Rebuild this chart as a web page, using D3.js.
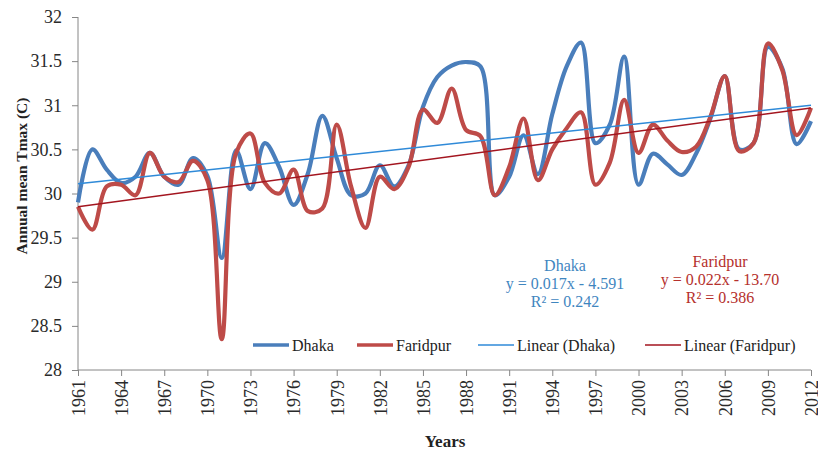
<!DOCTYPE html>
<html>
<head>
<meta charset="utf-8">
<script src="https://cdn.jsdelivr.net/npm/d3@7"></script>
<style>
  html, body { margin: 0; padding: 0; background: #fff; }
  svg { display: block; }
  text { font-family: "Liberation Serif", "Times New Roman", serif; }
</style>
</head>
<body>
<svg id="chart" width="818" height="455"></svg>
<script>
// ---- data ----
const years = [1961,1962,1963,1964,1965,1966,1967,1968,1969,1970,
  1971,1972,1973,1974,1975,1976,1977,1978,1979,1980,
  1981,1982,1983,1984,1985,1986,1987,1988,1989,1990,
  1991,1992,1993,1994,1995,1996,1997,1998,1999,2000,
  2001,2002,2003,2004,2005,2006,2007,2008,2009,2010,
  2011,2012];

const dhaka = [29.90,30.50,30.27,30.12,30.19,30.46,30.19,30.10,30.40,30.20,
  29.27,30.49,30.05,30.57,30.30,29.87,30.23,30.88,30.40,29.98,
  30.00,30.32,30.08,30.32,30.98,31.32,31.45,31.49,31.44,29.98,
  30.19,30.66,30.22,30.90,31.44,31.71,30.57,30.78,31.55,30.10,
  30.45,30.33,30.21,30.45,30.85,31.33,30.50,30.57,31.66,31.42,
  30.56,30.82];

const faridpur = [29.85,29.59,30.08,30.10,29.98,30.46,30.19,30.13,30.37,30.15,
  28.35,30.46,30.68,30.12,30.00,30.27,29.80,29.83,30.78,30.08,
  29.61,30.19,30.05,30.30,30.95,30.80,31.19,30.72,30.65,29.98,
  30.30,30.85,30.15,30.50,30.74,30.92,30.10,30.35,31.06,30.46,
  30.78,30.60,30.47,30.53,30.87,31.33,30.48,30.57,31.70,31.40,
  30.66,30.97];

// linear trend end values (first year, last year) as drawn
const dhakaTrend = [30.11, 31.00];
const faridpurTrend = [29.85, 30.97];

const xTicks = [1961,1964,1967,1970,1973,1976,1979,1982,1985,1988,1991,1994,1997,2000,2003,2006,2009,2012];
const yTicks = [28,28.5,29,29.5,30,30.5,31,31.5,32];

const seriesNames = ["Dhaka","Faridpur","Linear (Dhaka)","Linear (Faridpur)"];
const dhakaEq = ["Dhaka","y = 0.017x - 4.591","R\u00B2 = 0.242"];
const faridpurEq = ["Faridpur","y = 0.022x - 13.70","R\u00B2 = 0.386"];

// ---- drawing ----
const svg = d3.select("#chart");
const x = d3.scaleLinear().domain([1961, 2012]).range([78, 811]);
const y = d3.scaleLinear().domain([28, 32]).range([370, 17]);

const axisColor = "#868686";
const cDhaka = "#4a7ebb", cFarid = "#be4b48";
const cDhakaT = "#2f8ad8", cFaridT = "#a3151f";

// y axis
const gy = svg.append("g").attr("transform", "translate(78,0)")
  .call(d3.axisLeft(y).tickValues(yTicks).tickSize(6).tickPadding(10).tickFormat(d => String(d)));
gy.selectAll("path,line").attr("stroke", axisColor).attr("stroke-width", 1);
gy.select(".domain").attr("d", `M0,${y(32)}V${y(28)}`);
gy.selectAll("text").attr("font-size", 18).attr("fill", "#2a2a2a")
  .style("font-family", "'Liberation Serif', serif");

// x axis
const gx = svg.append("g").attr("transform", "translate(0,370)")
  .call(d3.axisBottom(x).tickValues(xTicks).tickSize(6).tickFormat(d => String(d)));
gx.selectAll("path,line").attr("stroke", axisColor).attr("stroke-width", 1);
gx.select(".domain").attr("d", `M${x(1961)},0H${x(2012)}`);
gx.selectAll("text")
  .attr("font-size", 18).attr("fill", "#2a2a2a")
  .style("font-family", "'Liberation Serif', serif")
  .attr("transform", "rotate(-90)")
  .attr("text-anchor", "end")
  .attr("x", -10).attr("y", 0).attr("dy", "0.35em");

// axis titles
svg.append("text").attr("x", 445).attr("y", 447)
  .attr("text-anchor", "middle").attr("font-weight", "bold").attr("font-size", 17)
  .attr("fill", "#222").text("Years");
svg.append("text").attr("transform", "translate(27,176) rotate(-90)")
  .attr("text-anchor", "middle").attr("font-weight", "bold").attr("font-size", 15.5)
  .attr("fill", "#222").text("Annual mean Tmax (C)");

// series
const line = d3.line().x((d, i) => x(years[i])).y(d => y(d)).curve(d3.curveCatmullRom.alpha(0.5));
svg.append("path").datum(dhaka).attr("d", line)
  .attr("fill", "none").attr("stroke", cDhaka).attr("stroke-width", 4.2).attr("stroke-linejoin", "round");
svg.append("path").datum(faridpur).attr("d", line)
  .attr("fill", "none").attr("stroke", cFarid).attr("stroke-width", 4.2).attr("stroke-linejoin", "round");

// trend lines
const tl = d3.line().x((d, i) => x(i === 0 ? years[0] : years[years.length - 1])).y(d => y(d));
svg.append("path").datum(dhakaTrend).attr("d", tl)
  .attr("fill", "none").attr("stroke", cDhakaT).attr("stroke-width", 1.5);
svg.append("path").datum(faridpurTrend).attr("d", tl)
  .attr("fill", "none").attr("stroke", cFaridT).attr("stroke-width", 1.5);

// legend
const legend = [
  {name: seriesNames[0], color: cDhaka, w: 3.5, x0: 253},
  {name: seriesNames[1], color: cFarid, w: 3.5, x0: 357},
  {name: seriesNames[2], color: cDhakaT, w: 1.5, x0: 478},
  {name: seriesNames[3], color: cFaridT, w: 1.5, x0: 645}
];
const lg = svg.append("g");
legend.forEach(l => {
  lg.append("line").attr("x1", l.x0).attr("x2", l.x0 + 36).attr("y1", 345).attr("y2", 345)
    .attr("stroke", l.color).attr("stroke-width", l.w);
  lg.append("text").attr("x", l.x0 + 39).attr("y", 351).attr("font-size", 16)
    .attr("fill", "#222").text(l.name);
});

// equations
dhakaEq.forEach((t, i) => {
  svg.append("text").attr("x", 565).attr("y", 271 + i * 18).attr("text-anchor", "middle")
    .attr("font-size", 16).attr("fill", "#3f86bf").text(t);
});
faridpurEq.forEach((t, i) => {
  svg.append("text").attr("x", 720).attr("y", 267 + i * 18).attr("text-anchor", "middle")
    .attr("font-size", 16).attr("fill", "#b5302c").text(t);
});
</script>
</body>
</html>
